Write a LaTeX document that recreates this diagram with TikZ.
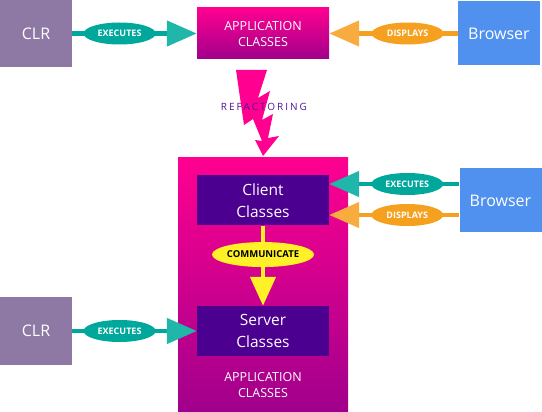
\documentclass[tikz,border=0pt]{standalone}
\usepackage{fontspec}
\setmainfont{Open Sans}
\newfontfamily\spacedfont[LetterSpace=20]{Open Sans}
\usetikzlibrary{arrows.meta,shapes.geometric}
\definecolor{clrpurple}{RGB}{142,121,164}
\definecolor{browserblue}{RGB}{80,144,238}
\definecolor{magtop}{RGB}{255,0,144}
\definecolor{magbot}{RGB}{160,0,140}
\definecolor{classpurple}{RGB}{75,0,144}
\definecolor{tealdark}{RGB}{0,168,156}
\definecolor{teallight}{RGB}{32,182,170}
\definecolor{orangedark}{RGB}{245,160,30}
\definecolor{orangelight}{RGB}{248,172,64}
\definecolor{commyellow}{RGB}{255,240,40}
\definecolor{refpurple}{RGB}{80,20,150}
\tikzset{
  box/.style={text=white,align=center,inner sep=0pt},
  clrbox/.style={box,fill=clrpurple,minimum width=72pt,minimum height=68pt,font=\fontsize{16}{20}\selectfont},
  browserbox/.style={box,fill=browserblue,minimum width=82pt,minimum height=64pt,font=\fontsize{16}{20}\selectfont},
  classbox/.style={box,fill=classpurple,minimum width=132pt,minimum height=50pt,font=\fontsize{15.5}{22}\selectfont},
  magbox/.style={box,top color=magtop,bottom color=magbot},
  capstext/.style={text=white,align=center,font=\fontsize{12.5}{16}\selectfont},
  execline/.style={draw=tealdark,line width=4.5pt,-{Triangle[length=30pt,width=25pt,color=teallight]}},
  displine/.style={draw=orangedark,line width=4.5pt,-{Triangle[length=30pt,width=25pt,color=orangelight]}},
  commline/.style={draw=commyellow,line width=4.5pt,-{Triangle[length=29pt,width=25pt,color=commyellow]}},
  execlabel/.style={ellipse,fill=tealdark,text=white,inner sep=0pt,minimum width=72pt,minimum height=22pt,font=\fontsize{9}{10}\selectfont\bfseries},
  displabel/.style={execlabel,fill=orangedark},
  commlabel/.style={ellipse,fill=commyellow,text=black,inner sep=0pt,minimum width=90pt,minimum height=25pt,font=\fontsize{9.5}{10}\selectfont\bfseries}
}
\begin{document}
\begin{tikzpicture}[x=1pt,y=-1pt]
\useasboundingbox (0,0) rectangle (542,412);
% top row
\node (clrtop) [clrbox] at (36,33.5) {CLR};
\node (apptop) [magbox,minimum width=132pt,minimum height=51pt] at (263,33.5) {};
\node (apptoptext) [capstext] at (263,34) {APPLICATION\\CLASSES};
\node (browsertop) [browserbox] at (499,33.5) {Browser};
%
\draw[execline] (clrtop) -- node[execlabel,pos=0.38] {EXECUTES} (apptop);
\draw[displine] (browsertop) -- node[displabel,pos=0.39] {DISPLAYS} (apptop);
% refactoring bolt
\fill[magtop] (236,70) -- (267,70) -- (258,98) -- (270,91) -- (262,120) -- (273,114)
  -- (268,138) -- (279,136) -- (263,156) -- (255,140) -- (262,141) -- (253,119)
  -- (244,125) -- cycle;
\node (refactor) [text=refpurple,font=\fontsize{10}{12}\spacedfont] at (264,107) {REFACTORING};
% lower part
\node (appbox) [magbox,minimum width=170pt,minimum height=254pt] at (263,285) {};
\node (appboxtext) [capstext] at (263,385) {APPLICATION\\CLASSES};
\node (client) [classbox] at (263,200.5) {Client\\Classes};
\node (server) [classbox] at (263,331) {Server\\Classes};
\node (browserlow) [browserbox] at (500.5,200.5) {Browser};
\node (clrlow) [clrbox] at (36,331) {CLR};
%
\draw[execline] ([yshift=16.5pt]browserlow.west) -- node[execlabel,pos=0.4] {EXECUTES} ([yshift=16.5pt]client.east);
\draw[displine] ([yshift=-14.5pt]browserlow.west) -- node[displabel,pos=0.4] {DISPLAYS} ([yshift=-14.5pt]client.east);
\draw[execline] (clrlow) -- node[execlabel,pos=0.38] {EXECUTES} (server);
\draw[commline] (client) -- node[commlabel,pos=0.36] {COMMUNICATE} (server);
\end{tikzpicture}
\end{document}
